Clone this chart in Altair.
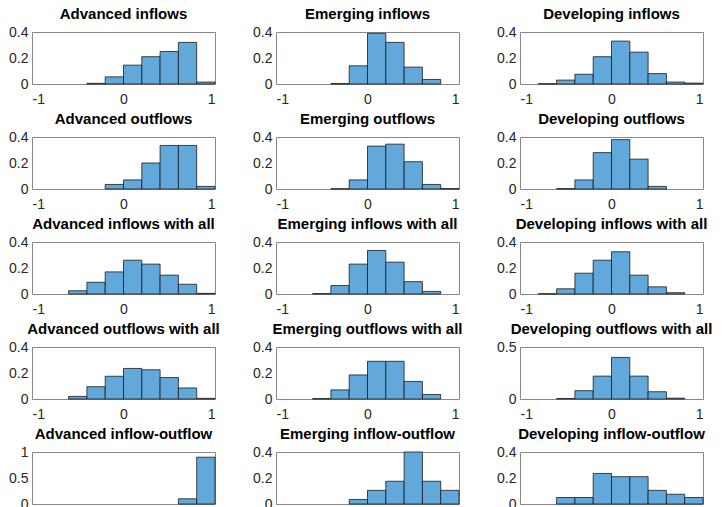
import altair as alt
import pandas as pd

BIN_STARTS = [-1.0, -0.8, -0.6, -0.4, -0.2, 0.0, 0.2, 0.4, 0.6, 0.8]

TITLES = [
    'Advanced inflows', 'Emerging inflows', 'Developing inflows',
    'Advanced outflows', 'Emerging outflows', 'Developing outflows',
    'Advanced inflows with all', 'Emerging inflows with all', 'Developing inflows with all',
    'Advanced outflows with all', 'Emerging outflows with all', 'Developing outflows with all',
    'Advanced inflow-outflow', 'Emerging inflow-outflow', 'Developing inflow-outflow',
]

# relative frequency per bin (-1..1, width 0.2)
adv_in = [0, 0, 0, 0.005, 0.055, 0.145, 0.21, 0.25, 0.32, 0.015]
emg_in = [0, 0, 0, 0.003, 0.14, 0.39, 0.32, 0.13, 0.035, 0]
dev_in = [0, 0.002, 0.03, 0.075, 0.21, 0.33, 0.245, 0.08, 0.015, 0.007]
adv_out = [0, 0, 0, 0, 0.035, 0.07, 0.20, 0.335, 0.335, 0.02]
emg_out = [0, 0, 0, 0.002, 0.07, 0.33, 0.345, 0.21, 0.035, 0.003]
dev_out = [0, 0, 0.003, 0.07, 0.28, 0.38, 0.23, 0.02, 0, 0]
adv_in_all = [0, 0, 0.025, 0.09, 0.17, 0.26, 0.23, 0.145, 0.075, 0.005]
emg_in_all = [0, 0, 0.003, 0.065, 0.23, 0.335, 0.245, 0.095, 0.02, 0]
dev_in_all = [0, 0.002, 0.04, 0.16, 0.26, 0.325, 0.145, 0.055, 0.01, 0]
adv_out_all = [0, 0, 0.02, 0.095, 0.175, 0.235, 0.225, 0.165, 0.085, 0.005]
emg_out_all = [0, 0, 0.003, 0.07, 0.185, 0.29, 0.29, 0.135, 0.035, 0]
dev_out_all = [0, 0, 0.005, 0.08, 0.22, 0.40, 0.22, 0.07, 0.008, 0]
adv_io = [0, 0, 0, 0, 0, 0, 0, 0, 0.1, 0.9]
emg_io = [0, 0, 0, 0, 0.035, 0.105, 0.175, 0.40, 0.175, 0.105]
dev_io = [0, 0, 0.05, 0.05, 0.235, 0.21, 0.21, 0.105, 0.075, 0.05]

SERIES = [adv_in, emg_in, dev_in, adv_out, emg_out, dev_out,
          adv_in_all, emg_in_all, dev_in_all, adv_out_all, emg_out_all, dev_out_all,
          adv_io, emg_io, dev_io]

Y_MAX = [0.4] * 11 + [0.5, 1.0, 0.4, 0.4]
Y_TICKS = {0.4: [0, 0.2, 0.4], 0.5: [0, 0.5], 1.0: [0, 0.5, 1]}

PLAIN_LABEL = "replace(format(datum.value, '~g'), '\u2212', '-')"


def panel(i):
    df = pd.DataFrame({'start': BIN_STARTS, 'freq': SERIES[i]})
    df['end'] = df['start'] + 0.2
    df = df[df['freq'] > 0]
    ymax = Y_MAX[i]
    return alt.Chart(df, title=TITLES[i]).mark_bar(
        color='#62a8da', stroke='#1a1a1a', strokeWidth=0.8
    ).encode(
        x=alt.X('start:Q', scale=alt.Scale(domain=[-1, 1], nice=False),
                axis=alt.Axis(values=[-1, 0, 1], labelExpr=PLAIN_LABEL,
                              labelPadding=8, title=None)),
        x2='end:Q',
        y=alt.Y('freq:Q', scale=alt.Scale(domain=[0, ymax], nice=False),
                axis=alt.Axis(values=Y_TICKS[ymax], labelExpr=PLAIN_LABEL, title=None)),
        y2=alt.datum(0),
    ).properties(width=183, height=52)


chart = alt.concat(
    *[panel(i) for i in range(15)], columns=3, bounds='flush',
    spacing={'row': 53, 'column': 61},
).configure(
    padding={'left': 0, 'top': -2, 'right': 0, 'bottom': 0},
    font='Liberation Sans',
).configure_view(
    stroke='#888888', strokeWidth=1,
).configure_axis(
    grid=False, ticks=False, domain=False,
    labelFont='Liberation Sans', labelFontSize=14, labelColor='#262626',
    labelPadding=4,
).configure_title(
    font='Liberation Sans', fontSize=15, fontWeight='bold', color='#000000',
    offset=3,
)

chart.save("out.html", embed_options={"renderer": "svg", "actions": False})
